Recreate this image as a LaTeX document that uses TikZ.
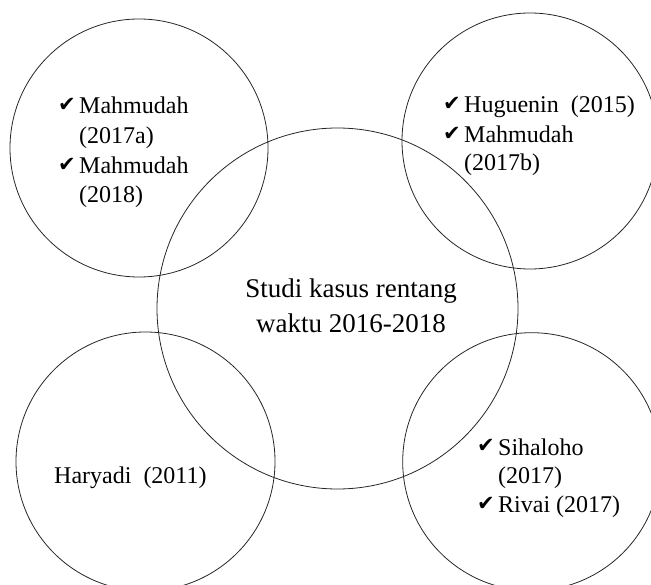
\documentclass[tikz,border=0pt]{standalone}
\usepackage{fontspec}
\setmainfont{Liberation Serif}
\newfontfamily\checkfont{DejaVu Sans}
\newcommand{\tick}{{\checkfont\fontsize{21}{21}\selectfont ✔}}
\begin{document}
\begin{tikzpicture}[x=1pt,y=-1pt,
  venn/.style={circle, draw=black!85, line width=0.8pt, inner sep=0pt, outer sep=0pt},
  item/.style={anchor=base west, inner sep=0pt, font=\fontsize{24}{29}\selectfont},
  tickmark/.style={anchor=base east, inner sep=0pt},
  title/.style={anchor=base, inner sep=0pt, font=\fontsize{27}{35}\selectfont}]
\useasboundingbox (0,0) rectangle (651,585);
\clip (0,0) rectangle (651,585);

% the five circles
\node[venn, minimum size=361pt] (mid) at (337.5,308.5) {};
\node[venn, minimum size=258pt] (tl) at (139,148) {};
\node[venn, minimum size=256pt] (tr) at (530,141) {};
\node[venn, minimum size=259pt] (bl) at (145.5,461.5) {};
\node[venn, minimum size=258pt] (br) at (531.7,461.7) {};

% centre label
\node[title] (mid1) at (351,298) {Studi kasus rentang};
\node[title] (mid2) at (351,333) {waktu 2016-2018};

% top left list
\node[tickmark] (tlc1) at (76,112) {\tick};
\node[item] (tl1) at (79,114) {Mahmudah};
\node[item] (tl2) at (79,144) {(2017a)};
\node[tickmark] (tlc2) at (76,172) {\tick};
\node[item] (tl3) at (79,174) {Mahmudah};
\node[item] (tl4) at (79,203) {(2018)};

% top right list
\node[tickmark] (trc1) at (461,111) {\tick};
\node[item] (tr1) at (464,113) {Huguenin\ \ (2015)};
\node[tickmark] (trc2) at (461,141) {\tick};
\node[item] (tr2) at (464,143) {Mahmudah};
\node[item] (tr3) at (464,171) {(2017b)};

% bottom left label
\node[item] (bl1) at (54,483) {Haryadi\ \ (2011)};

% bottom right list
\node[tickmark] (brc1) at (495,453) {\tick};
\node[item] (br1) at (498,455) {Sihaloho};
\node[item] (br2) at (498,483) {(2017)};
\node[tickmark] (brc2) at (495,510) {\tick};
\node[item] (br3) at (498,512) {Rivai (2017)};
\end{tikzpicture}
\end{document}
